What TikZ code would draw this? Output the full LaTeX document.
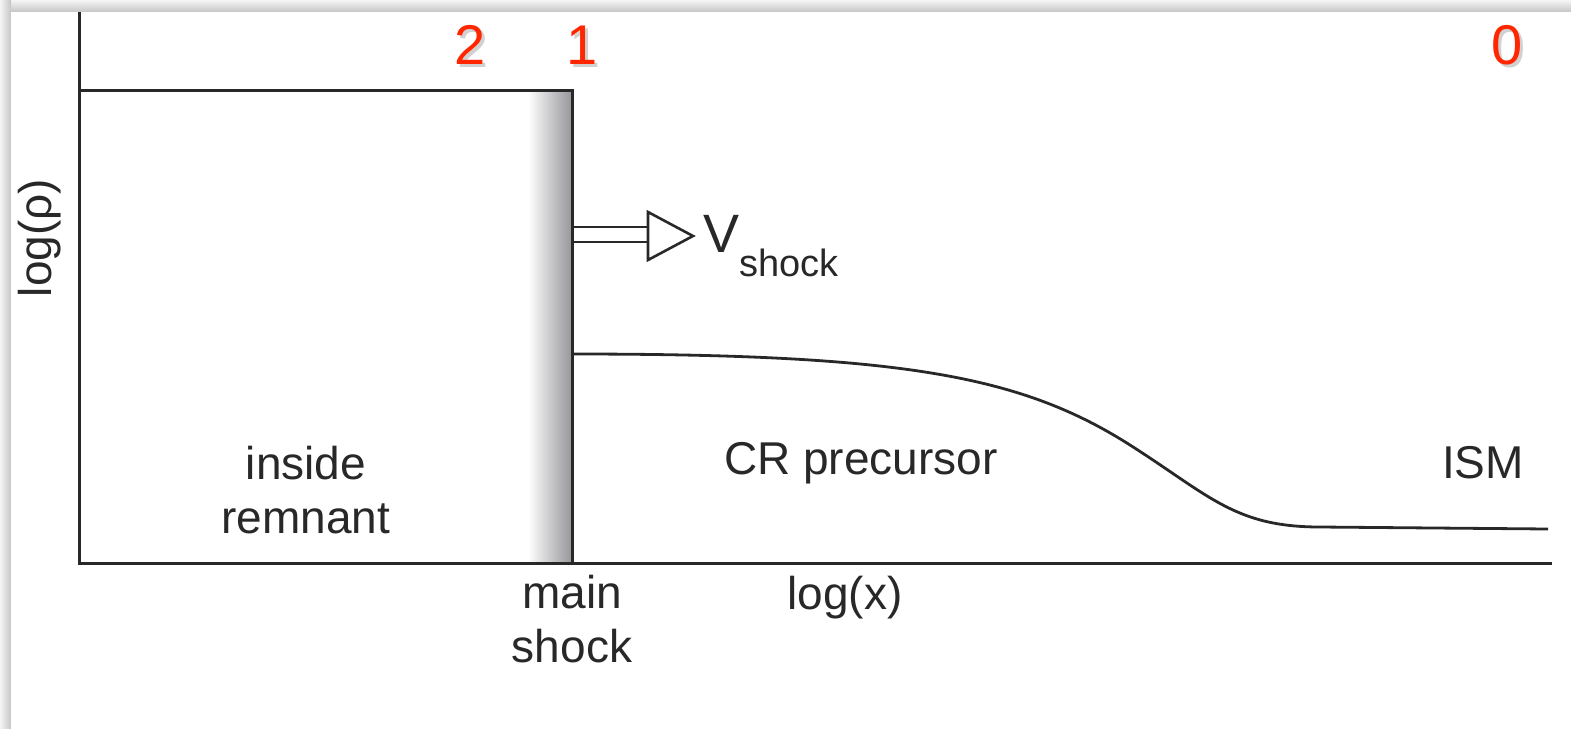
\documentclass[tikz,border=0pt]{standalone}
\usepackage{fontspec}
\setmainfont{Liberation Sans}
\usetikzlibrary{shadings}
\definecolor{numred}{RGB}{255,38,0}
\definecolor{ink}{RGB}{40,40,40}
\tikzset{
  lbl/.style={font=\fontsize{23}{27}\selectfont, text=ink, align=center, inner sep=0pt},
  num/.style={font=\fontsize{28}{32}\selectfont, text=numred, inner sep=0pt},
  numshadow/.style={font=\fontsize{28}{32}\selectfont, text=black, opacity=0.18, inner sep=0pt},
  axis/.style={draw=ink, line width=1.5pt},
  curve/.style={draw=ink, line width=1.4pt},
}
\begin{document}
\begin{tikzpicture}[x=0.5pt,y=-0.5pt]
\useasboundingbox (0,0) rectangle (1571,729);
% frame shadow
\shade[top color=gray!8, bottom color=gray!45] (0,0) rectangle (1571,12);
\shade[left color=gray!8, right color=gray!45] (0,0) rectangle (11,729);
\fill[white] (11,12) rectangle (1571,729);

% key points
\coordinate (O) at (79,563);
\coordinate (Ytop) at (79,12);
\coordinate (Xend) at (1552,563);
\coordinate (TL) at (79,90);
\coordinate (TR) at (572,90);
\coordinate (S) at (572,354);
\coordinate (Sb) at (572,563);
\coordinate (Cm) at (1130,445);
\coordinate (Cf) at (1320,527);
\coordinate (Ce) at (1548,529);

% shaded band behind main shock
\shade[left color=white, right color=gray!75!blue!20!black!45] (528,90) rectangle (572,563);

% axes
\draw[axis] (Ytop) -- (O) -- (Xend);
% density profile: downstream plateau and shock
\draw[axis, line join=miter] (TL) -- (TR) -- (Sb);
% precursor curve
\draw[curve] (S) .. controls (900,354) and (1020,375) .. (Cm)
  .. controls (1210,496) and (1235,527) .. (Cf) -- (Ce);

% velocity arrow
\coordinate (A1) at (572,227);
\coordinate (A2) at (572,242);
\coordinate (H1) at (648,227);
\coordinate (H2) at (648,242);
\draw[ink, line width=1.3pt] (A1) -- (H1);
\draw[ink, line width=1.3pt] (A2) -- (H2);
\draw[ink, line width=1.3pt, fill=white, line join=miter] (648,212) -- (693,236) -- (648,260) -- cycle;
\node[anchor=west, inner sep=0pt, font=\fontsize{27}{30}\selectfont, text=ink] (V) at (703,234) {V};
\node[anchor=west, inner sep=0pt, font=\fontsize{19}{22}\selectfont, text=ink] (Vsub) at (739,263) {shock};

% labels
\node[lbl, rotate=90] (ylab) at (40,238) {log(ρ)};
\node[lbl] (xlab) at (845,598) {log(x)};
\node[lbl] (inside) at (306,490) {inside\\remnant};
\node[lbl] (mainshock) at (572,619) {main\\shock};
\node[lbl] (cr) at (861,463) {CR precursor};
\node[lbl] (ism) at (1483,463) {ISM};

% region numbers
\node[numshadow] at (473,48) {2};
\node[numshadow] at (585,48) {1};
\node[numshadow] at (1510,48) {0};
\node[num] (n2) at (470,45) {2};
\node[num] (n1) at (582,45) {1};
\node[num] (n0) at (1507,45) {0};
\end{tikzpicture}
\end{document}
